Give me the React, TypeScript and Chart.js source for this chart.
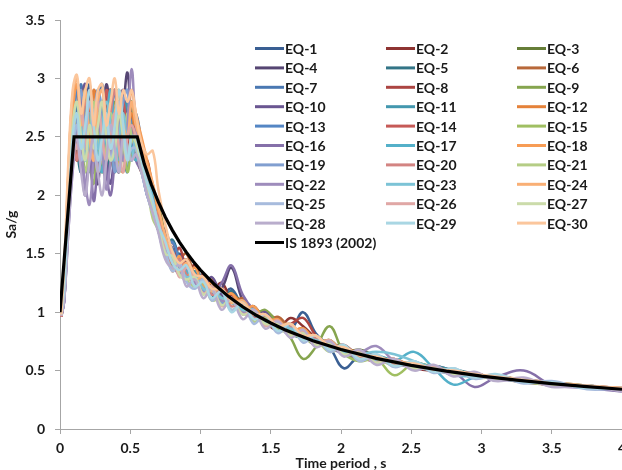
import React, { useEffect, useRef } from 'react';
import { Chart, registerables } from 'chart.js';

Chart.register(...registerables);

// Time periods (s) at which the EQ spectra are sampled
const periods = [0.01, 0.03, 0.06, 0.09, 0.12, 0.15, 0.18, 0.21, 0.24, 0.27, 0.3, 0.33, 0.36, 0.39, 0.42, 0.45, 0.48, 0.51, 0.54,
  0.58, 0.62, 0.66, 0.7, 0.75, 0.8, 0.85, 0.9, 0.96, 1.02, 1.08, 1.15, 1.22, 1.3, 1.38, 1.46, 1.55, 1.64, 1.73, 1.82, 1.92, 2.02, 2.13, 2.25, 2.38, 2.52, 2.66, 2.8, 2.95, 3.1, 3.3, 3.5, 3.75, 4.0];

const eq1 = [0.98, 1.2, 1.9, 2.5, 2.8, 2.4, 2.6, 2.95, 2.5, 2.3, 2.7, 2.9, 2.4, 2.2, 2.6, 2.9, 2.5, 2.3, 2.6,
  2.3, 2.1, 1.95, 1.8, 1.6, 1.45, 1.5, 1.4, 1.28, 1.3, 1.2, 1.15, 1.2, 1.05, 1.0, 0.98, 0.9, 0.85, 1.0, 0.82, 0.7, 0.52, 0.62, 0.6, 0.58, 0.56, 0.52, 0.5, 0.46, 0.45, 0.42, 0.39, 0.37, 0.34];
const eq2 = [0.97, 1.15, 1.8, 2.6, 2.3, 2.7, 2.9, 2.4, 2.2, 2.6, 2.8, 2.5, 2.9, 2.6, 2.3, 2.5, 2.8, 2.7, 2.4,
  2.2, 2.3, 2.0, 1.7, 1.55, 1.6, 1.4, 1.35, 1.4, 1.22, 1.18, 1.25, 1.1, 1.02, 1.05, 0.92, 0.85, 0.95, 0.88, 0.78, 0.7, 0.72, 0.62, 0.58, 0.6, 0.52, 0.5, 0.49, 0.44, 0.45, 0.4, 0.38, 0.36, 0.33];
const eq3 = [0.99, 1.25, 2.0, 2.4, 2.7, 2.9, 2.3, 2.6, 2.8, 2.4, 2.2, 2.5, 2.7, 2.9, 2.5, 2.3, 2.6, 2.4, 2.5,
  2.4, 2.15, 1.85, 1.9, 1.65, 1.5, 1.38, 1.45, 1.3, 1.2, 1.25, 1.12, 1.15, 1.08, 0.95, 1.0, 0.92, 0.8, 0.86, 0.74, 0.76, 0.66, 0.68, 0.62, 0.56, 0.57, 0.53, 0.48, 0.48, 0.43, 0.42, 0.4, 0.37, 0.35];
const eq4 = [0.96, 1.1, 1.85, 2.3, 2.6, 2.2, 2.8, 2.9, 2.3, 2.1, 2.6, 2.95, 2.7, 2.4, 2.2, 2.7, 3.05, 2.6, 2.4,
  2.25, 2.0, 1.9, 1.75, 1.7, 1.5, 1.35, 1.42, 1.25, 1.28, 1.15, 1.2, 1.38, 1.1, 1.0, 0.95, 0.9, 0.88, 0.8, 0.72, 0.74, 0.64, 0.66, 0.6, 0.58, 0.52, 0.54, 0.5, 0.45, 0.46, 0.41, 0.38, 0.36, 0.33];
const eq5 = [0.98, 1.3, 2.1, 2.7, 2.4, 2.2, 2.5, 2.8, 2.6, 2.9, 2.5, 2.2, 2.4, 2.7, 2.9, 2.6, 2.3, 2.5, 2.6,
  2.35, 2.2, 2.05, 1.8, 1.55, 1.62, 1.45, 1.3, 1.35, 1.25, 1.15, 1.1, 1.18, 1.0, 1.05, 0.9, 0.95, 0.82, 0.78, 0.8, 0.68, 0.7, 0.6, 0.62, 0.56, 0.55, 0.5, 0.51, 0.47, 0.43, 0.42, 0.38, 0.37, 0.34];
const eq6 = [0.97, 1.2, 1.95, 2.55, 2.9, 2.6, 2.3, 2.5, 2.9, 2.7, 2.3, 2.6, 2.4, 2.2, 2.5, 2.8, 2.6, 2.7, 2.3,
  2.3, 2.25, 2.05, 1.85, 1.6, 1.4, 1.45, 1.5, 1.3, 1.2, 1.28, 1.15, 1.08, 1.12, 0.98, 0.92, 0.96, 0.86, 0.82, 0.76, 0.7, 0.68, 0.66, 0.58, 0.59, 0.54, 0.52, 0.47, 0.47, 0.44, 0.4, 0.39, 0.36, 0.34];
const eq7 = [0.99, 1.15, 1.75, 2.4, 2.7, 2.95, 2.6, 2.3, 2.4, 2.8, 2.95, 2.6, 2.3, 2.5, 2.8, 2.4, 2.2, 2.6, 2.7,
  2.45, 2.15, 1.9, 1.75, 1.6, 1.55, 1.4, 1.32, 1.35, 1.22, 1.25, 1.15, 1.08, 1.1, 1.0, 0.92, 0.9, 0.88, 0.78, 0.77, 0.72, 0.66, 0.63, 0.6, 0.56, 0.56, 0.51, 0.49, 0.47, 0.44, 0.41, 0.4, 0.36, 0.34];
const eq8 = [0.96, 1.25, 2.05, 2.6, 2.3, 2.5, 2.9, 2.7, 2.4, 2.2, 2.5, 2.8, 2.9, 2.5, 2.3, 2.5, 2.7, 2.4, 2.5,
  2.3, 2.1, 2.0, 1.8, 1.62, 1.45, 1.55, 1.36, 1.3, 1.32, 1.2, 1.12, 1.15, 1.04, 1.02, 0.98, 0.88, 0.9, 0.95, 0.8, 0.68, 0.7, 0.63, 0.61, 0.57, 0.53, 0.53, 0.5, 0.45, 0.44, 0.42, 0.37, 0.37, 0.35];
const eq9 = [0.98, 1.3, 1.9, 2.5, 2.8, 2.5, 2.2, 2.4, 2.7, 2.5, 2.2, 2.3, 2.6, 2.8, 2.6, 2.4, 2.7, 2.8, 2.4,
  2.2, 2.05, 1.95, 1.7, 1.55, 1.48, 1.35, 1.4, 1.25, 1.3, 1.18, 1.2, 1.1, 1.05, 0.98, 1.02, 0.9, 0.78, 0.6, 0.7, 0.88, 0.66, 0.6, 0.62, 0.57, 0.54, 0.52, 0.49, 0.46, 0.45, 0.41, 0.39, 0.36, 0.34];
const eq10 = [0.97, 1.1, 1.8, 2.3, 2.5, 2.8, 2.95, 2.5, 2.2, 2.4, 2.6, 2.3, 2.1, 2.4, 2.7, 2.9, 2.6, 2.4, 2.6,
  2.4, 2.2, 1.95, 1.75, 1.65, 1.4, 1.48, 1.38, 1.3, 1.22, 1.3, 1.15, 1.12, 1.05, 0.96, 1.0, 0.85, 0.87, 0.8, 0.78, 0.7, 0.65, 0.67, 0.62, 0.56, 0.57, 0.5, 0.48, 0.48, 0.43, 0.42, 0.38, 0.37, 0.33];
const eq11 = [0.99, 1.2, 2.0, 2.6, 2.7, 2.4, 2.6, 2.9, 2.6, 2.3, 2.4, 2.7, 2.5, 2.2, 2.4, 2.6, 2.8, 2.5, 2.3,
  2.3, 2.15, 1.9, 1.8, 1.55, 1.5, 1.42, 1.3, 1.35, 1.28, 1.15, 1.18, 1.1, 1.0, 1.02, 0.9, 0.92, 0.85, 0.8, 0.74, 0.72, 0.66, 0.62, 0.63, 0.58, 0.52, 0.54, 0.5, 0.46, 0.44, 0.4, 0.39, 0.37, 0.34];
const eq12 = [0.97, 1.3, 2.2, 2.8, 2.5, 2.3, 2.7, 2.5, 2.9, 2.6, 2.3, 2.5, 2.8, 2.6, 2.3, 2.2, 2.5, 2.7, 2.5,
  2.35, 2.1, 2.0, 1.7, 1.6, 1.45, 1.35, 1.42, 1.32, 1.25, 1.18, 1.1, 1.16, 1.05, 0.98, 0.95, 0.92, 0.84, 0.86, 0.76, 0.72, 0.68, 0.64, 0.6, 0.57, 0.55, 0.51, 0.49, 0.46, 0.45, 0.42, 0.39, 0.36, 0.35];
const eq13 = [0.98, 1.15, 1.85, 2.45, 2.9, 2.7, 2.4, 2.2, 2.5, 2.9, 2.7, 2.4, 2.6, 2.9, 2.5, 2.3, 2.4, 2.6, 2.4,
  2.2, 2.0, 1.85, 1.75, 1.55, 1.6, 1.45, 1.35, 1.28, 1.22, 1.2, 1.12, 1.08, 1.06, 1.0, 0.94, 0.88, 0.84, 0.8, 0.78, 0.7, 0.66, 0.62, 0.6, 0.57, 0.53, 0.5, 0.5, 0.46, 0.43, 0.41, 0.38, 0.37, 0.34];
const eq14 = [0.96, 1.2, 1.95, 2.5, 2.6, 2.9, 2.6, 2.4, 2.6, 2.2, 2.5, 2.9, 2.6, 2.3, 2.6, 2.8, 2.5, 2.3, 2.6,
  2.4, 2.25, 2.0, 1.8, 1.6, 1.5, 1.38, 1.45, 1.28, 1.25, 1.15, 1.2, 1.1, 1.02, 1.0, 0.96, 0.9, 0.82, 0.84, 0.75, 0.72, 0.67, 0.64, 0.59, 0.58, 0.54, 0.52, 0.48, 0.47, 0.44, 0.42, 0.4, 0.36, 0.34];
const eq15 = [0.99, 1.25, 2.1, 2.65, 2.4, 2.6, 2.9, 2.3, 2.1, 2.5, 2.8, 2.5, 2.3, 2.6, 2.9, 2.5, 2.2, 2.4, 2.5,
  2.3, 2.1, 1.9, 1.72, 1.58, 1.45, 1.4, 1.32, 1.3, 1.2, 1.22, 1.12, 1.1, 1.0, 1.04, 0.92, 0.86, 0.88, 0.8, 0.72, 0.76, 0.64, 0.58, 0.6, 0.46, 0.56, 0.52, 0.47, 0.46, 0.44, 0.41, 0.38, 0.37, 0.34];
const eq16 = [0.97, 1.1, 1.7, 2.2, 2.5, 2.3, 2.0, 2.4, 1.95, 2.3, 2.6, 2.2, 2.0, 2.3, 2.6, 2.4, 2.7, 2.5, 2.3,
  2.2, 2.05, 1.85, 1.7, 1.5, 1.4, 1.32, 1.28, 1.3, 1.2, 1.15, 1.25, 1.4, 1.15, 1.02, 0.96, 0.88, 0.85, 0.78, 0.76, 0.68, 0.66, 0.6, 0.61, 0.56, 0.53, 0.52, 0.49, 0.36, 0.44, 0.5, 0.38, 0.35, 0.32];
const eq17 = [0.98, 1.2, 1.9, 2.5, 2.8, 2.5, 2.3, 2.7, 2.6, 2.4, 2.2, 2.6, 2.9, 2.5, 2.3, 2.5, 2.6, 2.4, 2.3,
  2.35, 2.2, 2.0, 1.75, 1.6, 1.5, 1.42, 1.35, 1.28, 1.25, 1.2, 1.12, 1.08, 1.05, 0.98, 0.92, 0.9, 0.84, 0.8, 0.76, 0.7, 0.68, 0.62, 0.6, 0.58, 0.66, 0.52, 0.38, 0.44, 0.45, 0.42, 0.39, 0.37, 0.34];
const eq18 = [0.97, 1.3, 2.05, 2.7, 2.95, 2.6, 2.4, 2.8, 2.5, 2.2, 2.4, 2.6, 2.3, 2.6, 2.8, 2.4, 2.6, 2.9, 2.7,
  2.5, 2.3, 2.1, 1.85, 1.6, 1.35, 1.48, 1.3, 1.38, 1.22, 1.25, 1.1, 1.16, 1.02, 1.05, 0.92, 0.94, 0.82, 0.86, 0.74, 0.76, 0.65, 0.67, 0.58, 0.6, 0.53, 0.54, 0.48, 0.48, 0.43, 0.42, 0.38, 0.37, 0.34];
const eq19 = [0.98, 1.15, 1.8, 2.35, 2.6, 2.9, 2.5, 2.3, 2.6, 2.9, 2.6, 2.3, 2.5, 2.2, 2.5, 2.8, 2.9, 2.5, 2.4,
  2.25, 2.0, 1.95, 1.7, 1.5, 1.52, 1.35, 1.28, 1.32, 1.18, 1.22, 1.08, 1.1, 0.98, 1.0, 0.9, 0.88, 0.8, 0.84, 0.72, 0.74, 0.64, 0.64, 0.58, 0.57, 0.53, 0.52, 0.47, 0.47, 0.43, 0.41, 0.38, 0.36, 0.34];
const eq20 = [0.96, 1.2, 2.0, 2.55, 2.3, 2.6, 2.8, 2.5, 2.3, 2.7, 2.5, 2.3, 2.7, 2.9, 2.5, 2.3, 2.5, 2.6, 2.45,
  2.3, 2.15, 1.9, 1.82, 1.55, 1.42, 1.45, 1.32, 1.25, 1.28, 1.15, 1.18, 1.05, 1.08, 0.95, 0.96, 0.88, 0.88, 0.78, 0.78, 0.68, 0.7, 0.62, 0.62, 0.55, 0.56, 0.5, 0.5, 0.45, 0.45, 0.4, 0.39, 0.36, 0.34];
const eq21 = [0.99, 1.25, 2.0, 2.5, 2.7, 2.4, 2.2, 2.5, 2.8, 2.5, 2.3, 2.4, 2.7, 2.5, 2.2, 2.4, 2.7, 2.5, 2.4,
  2.2, 2.05, 1.8, 1.7, 1.48, 1.38, 1.4, 1.28, 1.22, 1.25, 1.1, 1.12, 1.02, 1.05, 0.92, 0.95, 0.84, 0.84, 0.76, 0.76, 0.66, 0.7, 0.6, 0.6, 0.54, 0.55, 0.49, 0.5, 0.44, 0.44, 0.4, 0.38, 0.36, 0.34];
const eq22 = [0.97, 1.1, 1.75, 2.3, 2.6, 2.4, 2.1, 1.92, 2.3, 2.6, 2.4, 2.05, 2.3, 2.7, 2.5, 2.3, 2.6, 3.08, 2.6,
  2.35, 2.1, 1.95, 1.7, 1.58, 1.42, 1.35, 1.38, 1.25, 1.2, 1.2, 1.1, 1.1, 1.0, 1.0, 0.9, 0.9, 0.8, 0.82, 0.73, 0.72, 0.64, 0.65, 0.71, 0.58, 0.52, 0.53, 0.47, 0.47, 0.42, 0.42, 0.37, 0.37, 0.33];
const eq23 = [0.98, 1.2, 1.95, 2.55, 2.8, 2.6, 2.3, 2.5, 2.7, 2.4, 2.6, 2.8, 2.6, 2.3, 2.5, 2.7, 2.4, 2.3, 2.5,
  2.3, 2.2, 1.95, 1.75, 1.6, 1.45, 1.4, 1.3, 1.32, 1.2, 1.18, 1.12, 1.12, 1.02, 1.02, 0.92, 0.9, 0.86, 0.8, 0.76, 0.72, 0.66, 0.64, 0.66, 0.64, 0.58, 0.52, 0.46, 0.45, 0.44, 0.42, 0.38, 0.37, 0.34];
const eq24 = [0.97, 1.35, 2.2, 2.85, 3.0, 2.6, 2.9, 2.5, 2.3, 2.8, 2.9, 2.6, 2.4, 2.7, 2.9, 2.6, 2.5, 2.8, 2.6,
  2.45, 2.25, 2.1, 1.9, 1.65, 1.48, 1.35, 1.42, 1.28, 1.3, 1.18, 1.2, 1.08, 1.1, 0.98, 0.98, 0.88, 0.9, 0.8, 0.8, 0.7, 0.71, 0.63, 0.63, 0.57, 0.57, 0.51, 0.51, 0.46, 0.46, 0.42, 0.4, 0.37, 0.35];
const eq25 = [0.98, 1.15, 1.85, 2.4, 2.6, 2.3, 2.5, 2.8, 2.5, 2.2, 2.4, 2.6, 2.3, 2.5, 2.8, 2.5, 2.3, 2.4, 2.4,
  2.2, 2.0, 1.85, 1.72, 1.52, 1.35, 1.42, 1.26, 1.2, 1.28, 1.1, 1.18, 1.02, 1.08, 0.9, 0.98, 0.82, 0.9, 0.74, 0.8, 0.66, 0.72, 0.58, 0.64, 0.53, 0.58, 0.48, 0.52, 0.43, 0.46, 0.39, 0.41, 0.34, 0.35];
const eq26 = [0.97, 1.2, 1.95, 2.5, 2.4, 2.7, 2.5, 2.3, 2.6, 2.8, 2.5, 2.3, 2.5, 2.7, 2.4, 2.2, 2.5, 2.6, 2.5,
  2.3, 2.1, 1.92, 1.78, 1.56, 1.5, 1.3, 1.38, 1.3, 1.16, 1.22, 1.05, 1.12, 0.98, 1.02, 0.88, 0.93, 0.8, 0.84, 0.72, 0.76, 0.63, 0.66, 0.57, 0.6, 0.51, 0.53, 0.46, 0.48, 0.42, 0.43, 0.37, 0.37, 0.33];
const eq27 = [0.99, 1.25, 2.0, 2.6, 2.8, 2.5, 2.3, 2.6, 2.4, 2.6, 2.8, 2.5, 2.3, 2.4, 2.7, 2.5, 2.3, 2.5, 2.45,
  2.25, 2.1, 1.9, 1.75, 1.5, 1.48, 1.32, 1.28, 1.3, 1.15, 1.2, 1.06, 1.1, 0.98, 1.0, 0.9, 0.9, 0.8, 0.82, 0.72, 0.73, 0.64, 0.65, 0.57, 0.58, 0.52, 0.52, 0.47, 0.47, 0.42, 0.43, 0.37, 0.37, 0.33];
const eq28 = [0.97, 1.1, 1.7, 2.25, 2.5, 2.2, 2.0, 2.3, 2.5, 2.2, 2.0, 2.3, 2.6, 2.4, 2.2, 2.5, 2.4, 2.3, 2.35,
  2.2, 2.0, 1.85, 1.68, 1.45, 1.38, 1.4, 1.22, 1.28, 1.12, 1.2, 1.02, 1.12, 0.94, 1.02, 0.86, 0.92, 0.78, 0.85, 0.7, 0.75, 0.62, 0.68, 0.55, 0.6, 0.5, 0.55, 0.45, 0.49, 0.41, 0.44, 0.36, 0.37, 0.32];
const eq29 = [0.98, 1.2, 1.9, 2.5, 2.7, 2.4, 2.6, 2.9, 2.6, 2.3, 2.5, 2.7, 2.4, 2.6, 2.9, 2.6, 2.3, 2.5, 2.5,
  2.3, 2.1, 1.95, 1.75, 1.6, 1.42, 1.36, 1.4, 1.22, 1.26, 1.12, 1.18, 1.0, 1.08, 0.94, 0.98, 0.84, 0.9, 0.76, 0.8, 0.68, 0.72, 0.6, 0.64, 0.54, 0.58, 0.49, 0.52, 0.44, 0.47, 0.4, 0.4, 0.35, 0.35];
const eq30 = [0.98, 1.4, 2.3, 2.9, 3.03, 2.7, 2.9, 3.0, 2.6, 2.9, 2.95, 2.6, 2.8, 3.0, 2.7, 2.9, 2.8, 2.9, 2.7,
  2.45, 2.35, 2.38, 2.05, 1.75, 1.52, 1.42, 1.45, 1.32, 1.3, 1.2, 1.2, 1.1, 1.08, 0.98, 0.98, 0.88, 0.9, 0.8, 0.8, 0.71, 0.7, 0.63, 0.62, 0.57, 0.56, 0.51, 0.5, 0.47, 0.45, 0.42, 0.39, 0.37, 0.35];

const eqSeries = [eq1, eq2, eq3, eq4, eq5, eq6, eq7, eq8, eq9, eq10, eq11, eq12, eq13, eq14, eq15, eq16, eq17, eq18, eq19, eq20, eq21, eq22, eq23, eq24, eq25, eq26, eq27, eq28, eq29, eq30];
const eqLabels = ['EQ-1', 'EQ-2', 'EQ-3', 'EQ-4', 'EQ-5', 'EQ-6', 'EQ-7', 'EQ-8', 'EQ-9', 'EQ-10', 'EQ-11', 'EQ-12', 'EQ-13', 'EQ-14', 'EQ-15', 'EQ-16', 'EQ-17', 'EQ-18', 'EQ-19', 'EQ-20', 'EQ-21', 'EQ-22', 'EQ-23', 'EQ-24', 'EQ-25', 'EQ-26', 'EQ-27', 'EQ-28', 'EQ-29', 'EQ-30'];
const eqColors = [
  '#3A5F93', '#8E3432', '#667E38',
  '#564673', '#337587', '#B8683A',
  '#4A78B2', '#AC4542', '#86A54F',
  '#6A5691', '#4397AE', '#E5823A',
  '#5486C4', '#C65A57', '#A0BF62',
  '#8570A9', '#54B0C9', '#F79C55',
  '#819FD0', '#D38482', '#B5CD85',
  '#9E8CBC', '#7CC3D6', '#F9AF75',
  '#A7BBDD', '#E0A7A5', '#CBDBAA',
  '#B9ADCC', '#A9D6E3', '#FBC69C',
];

// IS 1893 (2002) design spectrum
const isLabel = 'IS 1893 (2002)';
const isPeriods = [0, 0.1, 0.55, 0.6, 0.65, 0.7, 0.75, 0.8, 0.85, 0.9, 0.95, 1.0, 1.1, 1.2, 1.3, 1.4, 1.5, 1.6, 1.8, 2.0, 2.25, 2.5, 2.75, 3.0, 3.25, 3.5, 3.75, 4.0];
const isValues = [1.0, 2.5, 2.5, 2.267, 2.092, 1.943, 1.813, 1.7, 1.6, 1.511, 1.432, 1.36, 1.236, 1.133, 1.046, 0.971, 0.907, 0.85, 0.756, 0.68, 0.604, 0.544, 0.495, 0.453, 0.418, 0.389, 0.363, 0.34];

const xTicks = [0, 0.5, 1, 1.5, 2, 2.5, 3, 3.5, 4];
const yTicks = [0, 0.5, 1, 1.5, 2, 2.5, 3, 3.5];
const xTitle = 'Time period , s';
const yTitle = 'Sa/g';

const FONT = 'Lato, "Open Sans", sans-serif';

const insideLegend = {
  id: 'insideLegend',
  afterDraw(chart: any) {
    const ctx = chart.ctx;
    ctx.save();
    ctx.font = `bold 14px ${FONT}`;
    ctx.textBaseline = 'middle';
    ctx.textAlign = 'left';
    chart.data.datasets.forEach((ds: any, i: number) => {
      const col = i < 30 ? i % 3 : 0;
      const row = i < 30 ? Math.floor(i / 3) : 10;
      const x0 = 255 + col * 131;
      const y = 48.5 + row * 19.4;
      ctx.strokeStyle = ds.borderColor;
      ctx.lineWidth = 3;
      ctx.beginPath();
      ctx.moveTo(x0, y);
      ctx.lineTo(x0 + 29, y);
      ctx.stroke();
      ctx.fillStyle = '#1a1a1a';
      ctx.fillText(ds.label, x0 + 30, y + 1);
    });
    ctx.restore();
  },
};

export default function App() {
  const ref = useRef<HTMLCanvasElement | null>(null);

  useEffect(() => {
    if (!ref.current) return;
    // lower "order" is drawn on top: EQ-30 above EQ-1, IS spectrum above all
    const datasets: any[] = eqSeries.map((vals, i) => ({
      label: eqLabels[i],
      data: vals.map((v, j) => ({ x: periods[j], y: v })),
      borderColor: eqColors[i],
      backgroundColor: eqColors[i],
      borderWidth: 2.5,
      pointRadius: 0,
      tension: 0.4,
      fill: false,
      order: eqSeries.length - i,
    }));
    datasets.push({
      label: isLabel,
      data: isValues.map((v, j) => ({ x: isPeriods[j], y: v })),
      borderColor: '#000000',
      backgroundColor: '#000000',
      borderWidth: 3.2,
      pointRadius: 0,
      tension: 0,
      fill: false,
      order: 0,
    });

    const chart = new Chart(ref.current, {
      type: 'line',
      data: { datasets },
      plugins: [insideLegend],
      options: {
        responsive: false,
        animation: false,
        layout: { padding: { top: 20, right: 0, left: 0, bottom: 0 } },
        plugins: {
          legend: { display: false },
          tooltip: { enabled: false },
        },
        scales: {
          x: {
            type: 'linear',
            min: 0,
            max: 4,
            afterBuildTicks: (s: any) => {
              s.ticks = xTicks.map((v) => ({ value: v }));
            },
            afterFit: (s: any) => {
              s.height = 41;
              s.paddingRight = 0;
              s.paddingLeft = 0;
            },
            grid: { drawOnChartArea: false, drawTicks: true, tickLength: 5, color: '#A6A6A6' },
            border: { color: '#A6A6A6', width: 1 },
            ticks: {
              padding: 6,
              color: '#1a1a1a',
              font: { family: FONT, size: 14, weight: 'bold' },
              callback: (v: any) => String(Math.round(Number(v) * 10) / 10),
              maxRotation: 0,
            },
            title: {
              display: true,
              text: xTitle,
              color: '#1a1a1a',
              font: { family: FONT, size: 14, weight: 'bold' },
              padding: { top: 0, bottom: -2 },
            },
          },
          y: {
            type: 'linear',
            min: 0,
            max: 3.5,
            afterBuildTicks: (s: any) => {
              s.ticks = yTicks.map((v) => ({ value: v }));
            },
            afterFit: (s: any) => {
              s.width = 60;
            },
            grid: { drawOnChartArea: false, drawTicks: true, tickLength: 5, color: '#A6A6A6' },
            border: { color: '#A6A6A6', width: 1 },
            ticks: {
              padding: 10,
              color: '#1a1a1a',
              font: { family: FONT, size: 14, weight: 'bold' },
              callback: (v: any) => String(Math.round(Number(v) * 10) / 10),
            },
            title: {
              display: true,
              text: yTitle,
              color: '#1a1a1a',
              font: { family: FONT, size: 14, weight: 'bold' },
              padding: { top: 3, bottom: 0 },
            },
          },
        },
      } as any,
    });
    return () => chart.destroy();
  }, []);

  return (
    <div style={{ position: 'fixed', left: 0, top: 0, width: 622, height: 470, background: '#fff' }}>
      <canvas ref={ref} width={622} height={470} style={{ width: 622, height: 470, display: 'block' }} />
    </div>
  );
}
